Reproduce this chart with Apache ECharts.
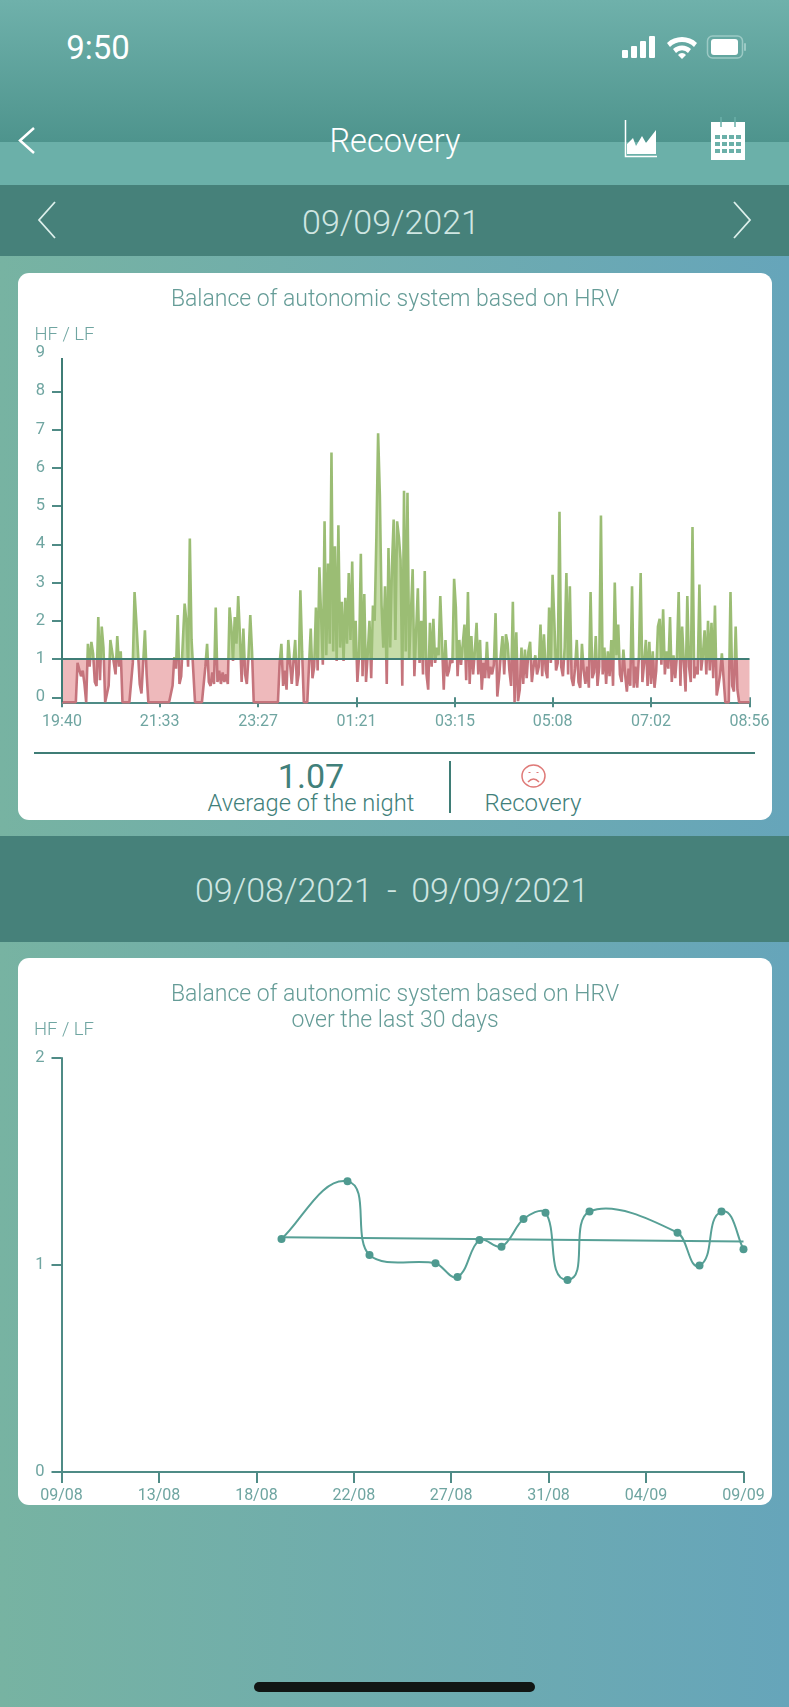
<!DOCTYPE html>
<html lang="en">
<head>
<meta charset="UTF-8">
<title>Recovery</title>
<script src="https://cdn.jsdelivr.net/npm/echarts@6/dist/echarts.min.js"></script>
<style>
html,body{margin:0;padding:0}
body{width:789px;height:1707px;position:relative;overflow:hidden;font-family:Roboto,"Liberation Sans",sans-serif;font-weight:300}
.abs{position:absolute}
.txt{position:absolute;white-space:nowrap;transform:translate(-50%,-50%)}
#main{position:absolute;left:0;top:0;width:789px;height:1707px}
</style>
</head>
<body>
<div class="abs" style="left:0;top:0;width:789px;height:142px;background:linear-gradient(#6fb1ab,#4e948d)"></div>
<div class="abs" style="left:0;top:142px;width:789px;height:43px;background:#6bb0a9"></div>
<div class="abs" style="left:0;top:185px;width:789px;height:71px;background:#46817a"></div>
<div class="abs" style="left:0;top:256px;width:789px;height:1451px;background:linear-gradient(90deg,#77b3a2,#66a5ba)"></div>
<div class="abs" style="left:0;top:836px;width:789px;height:106px;background:#46817a"></div>
<div class="abs" style="left:18px;top:273px;width:754px;height:547px;background:#fff;border-radius:11px"></div>
<div class="abs" style="left:18px;top:958px;width:754px;height:547px;background:#fff;border-radius:11px"></div>

<div class="txt" style="left:98px;top:47px;font-size:33px;font-weight:400;color:#fff">9:50</div>
<svg class="abs" style="left:620px;top:34px" width="135" height="28" viewBox="0 0 135 28">
  <g fill="#fff">
    <rect x="2" y="16" width="6" height="8" rx="1"/><rect x="11" y="12" width="6" height="12" rx="1"/>
    <rect x="20" y="7" width="6" height="17" rx="1"/><rect x="29" y="2" width="6" height="22" rx="1"/>
    <path d="M47 9a22 22 0 0 1 30 0l-3 4a17 17 0 0 0-24 0z"/><path d="M53 15a13 13 0 0 1 18 0l-3 4a8 8 0 0 0-12 0z"/><path d="M58 21a5 5 0 0 1 8 0l-4 4z"/>
    <rect x="91" y="5" width="27" height="16" rx="3"/>
  </g>
  <rect x="87.5" y="2" width="35" height="22" rx="5" fill="none" stroke="#9ccac5" stroke-width="1.5"/>
  <rect x="124" y="9" width="2" height="8" rx="1" fill="#9ccac5"/>
</svg>

<svg class="abs" style="left:0;top:110px" width="789" height="135" viewBox="0 0 789 135" fill="none" stroke="#fff">
  <path d="M34 18L20 30.500L34 43" stroke-width="2.500"/>
  <path d="M55 92L39 110L55 128" stroke-width="1.800" stroke="#dcefeb"/>
  <path d="M734 92L750 110L734 128" stroke-width="1.800" stroke="#dcefeb"/>
  <path d="M625.500 10V46.500H657" stroke-width="1.500"/>
  <path d="M627 44V34L633 28L636 36L642 26L646 33L656 20V44Z" fill="#fff" stroke="none"/>
  <rect x="711" y="12" width="34" height="38" fill="#fff" stroke="none"/>
  <g stroke="#6bb0a9" stroke-width="1.500"><path d="M721 7V17M735 7V17"/></g>
  <g fill="#6bb0a9" stroke="none">
    <rect x="715" y="25" width="5" height="4"/><rect x="722" y="25" width="5" height="4"/><rect x="729" y="25" width="5" height="4"/><rect x="736" y="25" width="5" height="4"/>
    <rect x="715" y="32" width="5" height="4"/><rect x="722" y="32" width="5" height="4"/><rect x="729" y="32" width="5" height="4"/><rect x="736" y="32" width="5" height="4"/>
    <rect x="715" y="39" width="5" height="4"/><rect x="722" y="39" width="5" height="4"/><rect x="729" y="39" width="5" height="4"/><rect x="736" y="39" width="5" height="4"/>
  </g>
</svg>
<div class="txt" style="left:395px;top:141px;font-size:32.500px;color:#fff">Recovery</div>
<div class="txt" style="left:391px;top:222px;font-size:34px;color:#cfe6e2">09/09/2021</div>
<div class="txt" style="left:392px;top:890px;font-size:34px;word-spacing:6px;color:#cfe6e2">09/08/2021 - 09/09/2021</div>

<div class="abs" style="left:34px;top:752px;width:721px;height:2px;background:#3f7d76"></div>
<div class="abs" style="left:449px;top:761px;width:2px;height:52px;background:#3f7d76"></div>
<div class="txt" style="left:311px;top:776px;font-size:34px;font-weight:400;color:#41807a">1.07</div>
<div class="txt" style="left:311px;top:803px;font-size:23.700px;color:#41807a">Average of the night</div>
<div class="txt" style="left:533px;top:803px;font-size:24px;color:#41807a">Recovery</div>
<svg class="abs" style="left:520px;top:763px" width="27" height="26" viewBox="0 0 27 26" fill="none" stroke="#df7a78" stroke-width="1.500">
  <ellipse cx="13.500" cy="13" rx="11.500" ry="11"/>
  <path d="M8 19Q13.500 13 19 19"/>
  <path d="M9.500 9V10M17.500 9V10" stroke-width="2"/>
</svg>
<div class="abs" style="left:254px;top:1682px;width:281px;height:10px;border-radius:5px;background:#111614"></div>

<div id="main"></div>
<script>
// night HF/LF, one reading every 2 minutes from 19:40
const hfLfValues = [
  -.13,-.13,-.13,-.13,-.13,-.13,-.13,-.13,-.13,.9,
  .85,.55,.7,.35,-.13,1.4,.8,1.45,1.15,.4,
  .3,2.1,.45,1.85,1.3,-.13,-.13,.3,1.5,1.5,
  .9,.6,1.6,.8,1.2,-.13,-.13,-.13,-.13,-.13,
  -.13,.9,2.75,2,1.95,.35,.1,.9,1.75,.6,
  -.13,-.13,-.13,-.13,-.13,-.13,-.13,-.13,-.13,-.13,
  -.13,-.13,-.13,-.13,.3,1.05,.75,2.15,.35,.55,
  .6,2.45,2,.8,4.15,1.5,1.5,-.13,-.13,-.13,
  -.13,-.13,-.13,.8,1.4,.4,.3,.65,.35,2.35,
  .4,.7,.35,.65,.4,.6,.35,2.35,1.85,.95,
  2.1,1.4,2.65,1.6,.4,1.8,.6,.35,1.1,2.15,
  1.2,-.13,-.13,-.13,-.13,-.13,-.13,-.13,-.13,-.13,
  -.13,-.13,-.13,-.13,-.13,-.13,.9,1.4,.3,.7,
  .2,1.5,.9,.35,.4,1.5,.3,.6,2.8,1.2,
  -.13,-.13,-.13,-.13,1.8,.5,.8,2.35,.7,3.4,
  3.35,.85,4.6,1.1,3.5,1.4,6.4,1.2,3.95,.95,
  4.5,1.3,2.5,.95,2.6,1.4,3.25,1.5,3.55,1,
  2,.4,1.1,3.75,.55,2.7,.4,1.15,2,.5,
  2.4,2,4.2,6.9,5.3,2.4,1.3,2.9,.35,3.9,
  1.3,3.4,4.65,1.5,4.6,4.2,3.6,.3,5.4,1.2,
  5.35,1,2.2,3.35,.55,.6,2.85,.9,2,.6,
  3.3,.6,.2,1.95,.8,2.05,.9,1.3,1.1,2.65,
  2.65,.2,1.5,.55,.7,1,.9,3.1,2.35,.55,
  1.5,.85,1.4,1.9,.45,2.75,.35,1.6,.6,1.2,
  1.95,.6,1.5,.2,.9,.5,1.45,.5,.8,.6,
  .85,2.2,.02,.5,1.1,1.6,.6,1.65,1.4,.7,
  .3,2.5,-.13,1.7,-.1,.2,1.3,.35,1.25,.5,
  1.2,1.45,.4,.8,1.1,.6,.8,1.9,.55,1.65,
  .7,.5,2.35,.9,3.2,2,.7,.9,4.85,.8,
  .55,1.3,3.25,.6,2.9,.5,.3,.75,1.5,.4,
  .25,1.4,.7,.35,.8,.25,2.75,.5,.65,1.6,
  .3,.8,4.75,.6,1.3,.35,1.2,.55,1.5,.3,
  3,1.1,1.9,.6,.4,1.25,.6,.15,.75,.3,
  2.9,.25,.8,.25,1.1,3.25,.4,.9,1.5,.3,
  1.45,.35,1.2,.25,.7,1.85,2.05,.85,2.3,.6,
  1.2,.75,2.1,.4,1.1,.5,1.1,2.75,.3,1.85,
  .9,.15,2.65,.8,.4,4.45,.5,.8,.6,2.95,
  .7,1.1,1.75,.6,2,.7,1.95,.5,2.4,.05,
  .3,.6,1.15,.5,-.13,-.13,-.13,2.75,.3,.15,
  1.85,.2,-.13,-.13,-.13,-.13,-.13,-.13,-.13
];
const nightStep = 2;
const nightEnd = 796;
const nightTicks = [0, 113, 227, 341, 455, 568, 682, 796];
const nightTickLabels = ['19:40', '21:33', '23:27', '01:21', '03:15', '05:08', '07:02', '08:56'];
const nightYLabels = [0, 1, 2, 3, 4, 5, 6, 7, 8, 9];
const nightYTicks = [0, 1, 2, 3, 4, 5, 6, 7, 8];

// last 30 days, day number counted from 09/08
const monthDays = [10, 13, 14, 17, 18, 19, 20, 21, 22, 23, 24, 28, 29, 30, 31];
const monthValues = [1.126, 1.404, 1.048, 1.008, 0.942, 1.121, 1.088, 1.222, 1.253, 0.928, 1.258, 1.156, 0.997, 1.258, 1.076];
const trendDays = [10, 31];
const trendValues = [1.134, 1.113];
const monthTicks = [0, 4.43, 8.86, 13.29, 17.71, 22.14, 26.57, 31];
const monthTickLabels = ['09/08', '13/08', '18/08', '22/08', '27/08', '31/08', '04/09', '09/09'];

const TEAL = '#4f8b86';
const LABEL = '#6fa5a1';
const FONT = 'Roboto';
const CURVE = 0.3;

let chart = echarts.init(document.getElementById('main'));

function labelFor(ticks, labels) {
    return v => {
        let i = ticks.indexOf(v);
        return i < 0 ? '' : labels[i];
    };
}

function timeAxis(gridIndex, ticks, labels, tickLen, labelMargin) {
    return {
        type: 'value', gridIndex: gridIndex, position: 'bottom',
        min: ticks[0], max: ticks[ticks.length - 1],
        splitLine: {show: false},
        axisLine: {show: true, onZero: false, lineStyle: {color: TEAL, width: 2}},
        axisTick: {show: true, length: tickLen, customValues: ticks, lineStyle: {color: TEAL, width: 2}},
        axisLabel: {
            customValues: ticks, formatter: labelFor(ticks, labels),
            color: LABEL, fontSize: 16, fontFamily: FONT, margin: labelMargin, hideOverlap: false
        }
    };
}

// spline through the month points, the tangent length follows the length of each segment
function monthCurve(params, api) {
    if (params.dataIndex !== 0) return;
    let pts = monthDays.map((d, i) => api.coord([d, monthValues[i]]));
    let dirs = pts.map((p, i) => {
        let a = pts[Math.max(i - 1, 0)];
        let b = pts[Math.min(i + 1, pts.length - 1)];
        let len = Math.hypot(b[0] - a[0], b[1] - a[1]);
        return [(b[0] - a[0]) / len, (b[1] - a[1]) / len];
    });
    let d = 'M' + pts[0][0] + ' ' + pts[0][1];
    for (let i = 1; i < pts.length; i++) {
        let p = pts[i - 1], q = pts[i];
        let t = Math.hypot(q[0] - p[0], q[1] - p[1]) * CURVE;
        d += 'C' + (p[0] + dirs[i - 1][0] * t) + ' ' + (p[1] + dirs[i - 1][1] * t)
            + ' ' + (q[0] - dirs[i][0] * t) + ' ' + (q[1] - dirs[i][1] * t)
            + ' ' + q[0] + ' ' + q[1];
    }
    return {
        type: 'path', shape: {pathData: d},
        style: {fill: null, stroke: '#57a096', lineWidth: 2}
    };
}

let inner = timeAxis(0, nightTicks, nightTickLabels, 5, 12);
inner.axisLine = {show: false, onZero: false};
inner.axisLabel = {show: false};
inner.axisTick.inside = true;

let option = {
    animation: false,
    textStyle: {fontFamily: FONT},
    title: [
        {text: 'Balance of autonomic system based on HRV', left: 390, top: 284, textAlign: 'center',
            textStyle: {color: '#659c97', fontSize: 23, fontWeight: 300, fontFamily: FONT}},
        {text: 'Balance of autonomic system based on HRV\nover the last 30 days', left: 390, top: 977, textAlign: 'center',
            textStyle: {color: '#659c97', fontSize: 23, fontWeight: 300, fontFamily: FONT, lineHeight: 26}}
    ],
    grid: [
        {left: 62, top: 353, width: 687.5, height: 349.3},
        {left: 61.5, top: 1058, width: 682, height: 414}
    ],
    xAxis: [
        timeAxis(0, nightTicks, nightTickLabels, 5, 12),
        inner,
        timeAxis(1, monthTicks, monthTickLabels, 11, 16)
    ],
    yAxis: [
        {
            type: 'value', gridIndex: 0, min: -0.13, max: 9,
            name: 'HF / LF', nameGap: 6,
            nameTextStyle: {color: LABEL, fontSize: 18.5, fontFamily: FONT, fontWeight: 300, padding: [0, 0, 0, 5]},
            splitLine: {show: false},
            axisLine: {show: false},
            axisTick: {show: true, length: 10, customValues: nightYTicks, lineStyle: {color: TEAL, width: 2}},
            axisLabel: {customValues: nightYLabels, color: LABEL, fontSize: 16.5, fontFamily: FONT, margin: 17, padding: [5, 0, 0, 0]}
        },
        {
            type: 'value', gridIndex: 1, min: 0, max: 2, interval: 1,
            name: 'HF / LF', nameGap: 18,
            nameTextStyle: {color: LABEL, fontSize: 18.5, fontFamily: FONT, fontWeight: 300, padding: [0, 0, 0, 5]},
            splitLine: {show: false},
            axisLine: {show: true, lineStyle: {color: TEAL, width: 2}},
            axisTick: {show: true, length: 10, lineStyle: {color: TEAL, width: 2}},
            axisLabel: {color: LABEL, fontSize: 16.5, fontFamily: FONT, margin: 17}
        }
    ],
    visualMap: {
        show: false, type: 'piecewise', seriesIndex: 0, dimension: 1,
        pieces: [{min: -1, max: 1, color: '#c5747c'}, {min: 1, max: 10, color: '#9bbd74'}]
    },
    series: [
        {
            name: 'night', type: 'line', xAxisIndex: 0, yAxisIndex: 0,
            data: hfLfValues.map((v, i) => [i * nightStep, v]),
            showSymbol: false, clip: false,
            lineStyle: {width: 2.6},
            areaStyle: {
                origin: 1, opacity: 1,
                color: {
                    type: 'linear', global: true, x: 0, y: 353, x2: 0, y2: 702.3,
                    colorStops: [
                        {offset: 0, color: '#c6dca8'},
                        {offset: 0.877, color: '#c6dca8'},
                        {offset: 0.877, color: '#eeb9bb'},
                        {offset: 1, color: '#eeb9bb'}
                    ]
                }
            },
            markLine: {
                silent: true, symbol: 'none', label: {show: false}, animation: false,
                lineStyle: {type: 'solid', width: 2, color: '#3f7d76'},
                data: [
                    [{coord: [0, -0.13]}, {coord: [0, 8.87]}],
                    [{coord: [0, 1]}, {coord: [nightEnd, 1]}]
                ]
            }
        },
        {
            name: 'trend', type: 'line', xAxisIndex: 2, yAxisIndex: 1,
            data: trendDays.map((d, i) => [d, trendValues[i]]),
            showSymbol: false, lineStyle: {color: '#57a096', width: 2}
        },
        {
            name: 'monthCurve', type: 'custom', xAxisIndex: 2, yAxisIndex: 1,
            data: monthDays.map((d, i) => [d, monthValues[i]]),
            encode: {x: 0, y: 1}, clip: false, silent: true,
            renderItem: monthCurve
        },
        {
            name: 'month', type: 'scatter', xAxisIndex: 2, yAxisIndex: 1,
            data: monthDays.map((d, i) => [d, monthValues[i]]),
            symbol: 'circle', symbolSize: 8, clip: false, z: 3,
            itemStyle: {color: '#4f9a90', opacity: 1}
        }
    ]
};
chart.setOption(option);
</script>
</body>
</html>
